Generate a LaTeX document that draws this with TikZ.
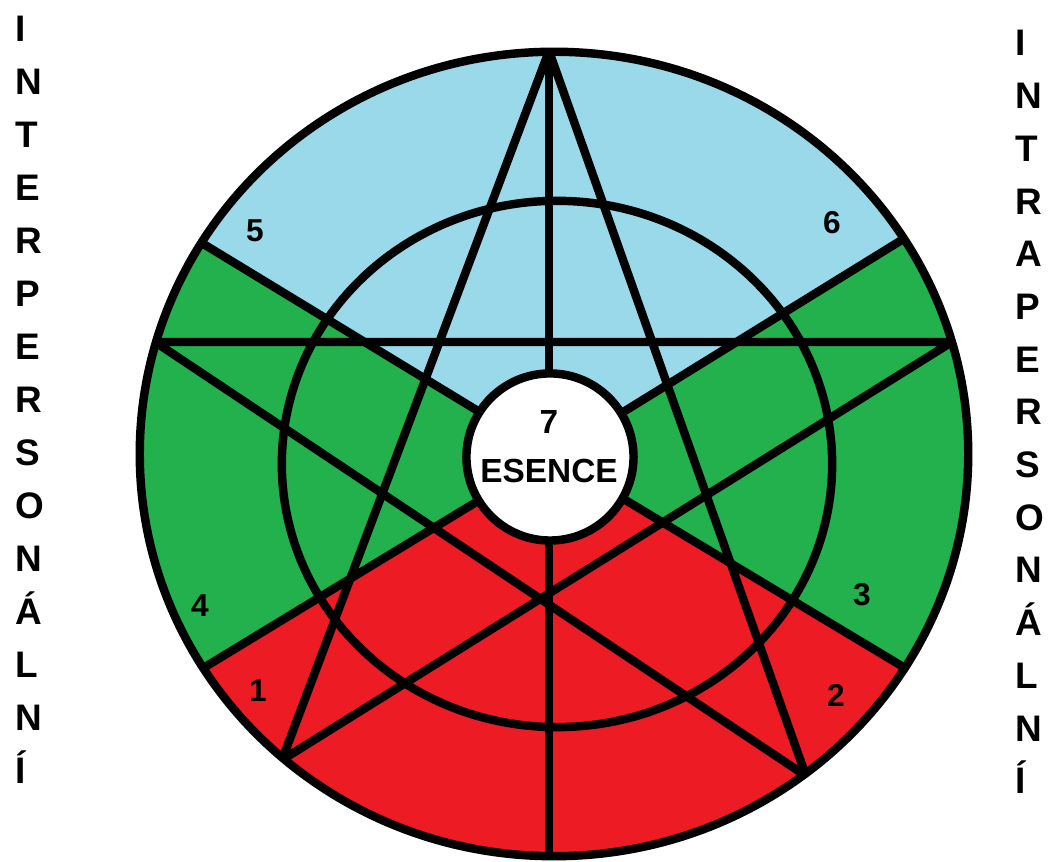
\documentclass[tikz,border=0pt]{standalone}
\usepackage{fontspec}
\setmainfont{Liberation Sans}
\usetikzlibrary{calc}

\definecolor{skyblue}{RGB}{153,217,234}
\definecolor{leafgreen}{RGB}{34,177,76}
\definecolor{brightred}{RGB}{237,28,36}

\begin{document}
\begin{tikzpicture}[x=0.01cm, y=-0.01cm,
  edge/.style={line width=2.4pt},
  num/.style={font=\fontsize{9}{10}\selectfont\bfseries},
  core/.style={circle, draw, fill=white, line width=2.4pt, minimum size=1.67cm, inner sep=0pt},
  letter/.style={font=\fontsize{10.5}{12}\selectfont\bfseries, anchor=base west, inner sep=0pt}
]
  \useasboundingbox (0,0) rectangle (1050,862);

  \coordinate (c)   at (552,456);
  \coordinate (top) at (549,51);
  \coordinate (bot) at (549,858);
  \coordinate (lv)  at (155,342);
  \coordinate (rv)  at (952,342);
  \coordinate (blv) at (282,760);
  \coordinate (brv) at (806,776);
  \coordinate (ul)  at (205,245);
  \coordinate (ur)  at (905,238);
  \coordinate (ll)  at (205,667);
  \coordinate (lr)  at (905,668);

  \begin{scope}
    \clip (554,454) ellipse [x radius=4.14cm, y radius=4.02cm];
    \fill[leafgreen] (0,0) rectangle (1050,862);
    \fill[skyblue] (c) -- ($(c)!2!(ul)$) -- ($(c)!2!(ur)$) -- cycle;
    \fill[brightred] (c) -- ($(c)!2!(ll)$) -- ($(c)!2!(lr)$) -- cycle;
    \draw[edge] (c) -- ($(c)!1.1!(ul)$) (c) -- ($(c)!1.1!(ur)$)
                (c) -- ($(c)!1.1!(ll)$) (c) -- ($(c)!1.1!(lr)$);
    \draw[edge] (top) -- (bot);
    \draw[edge] (557,464) ellipse [x radius=2.75cm, y radius=2.63cm];
    \draw[edge] (top) -- (blv) (top) -- (brv) (lv) -- (rv)
                (lv) -- (brv) (rv) -- (blv);
  \end{scope}
  \draw[edge] (554,454) ellipse [x radius=4.14cm, y radius=4.02cm];

  \node[core] (ess) at (550,457) {};
  \node[num, font=\fontsize{9.5}{11}\selectfont\bfseries] (seven) at (549,422) {7};
  \node[num, font=\fontsize{9.5}{11}\selectfont\bfseries] (esence) at (549,471) {ESENCE};

  \node[num] (n1) at (258,691) {1};
  \node[num] (n2) at (836,695) {2};
  \node[num] (n3) at (862,595) {3};
  \node[num] (n4) at (200,606) {4};
  \node[num] (n5) at (255,231) {5};
  \node[num] (n6) at (832,223) {6};

  \foreach \ch [count=\i from 0] in {I,N,T,E,R,P,E,R,S,O,N,Á,L,N,Í}
    \node[letter] (inter\i) at (15,{42+53*\i}) {\ch};
  \foreach \ch [count=\i from 0] in {I,N,T,R,A,P,E,R,S,O,N,Á,L,N,Í}
    \node[letter] (intra\i) at (1015,{56+52.7*\i}) {\ch};
\end{tikzpicture}
\end{document}
